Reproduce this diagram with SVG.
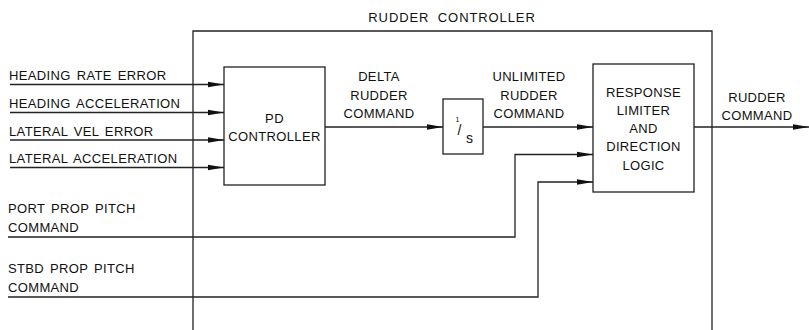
<svg xmlns="http://www.w3.org/2000/svg" width="809" height="330" viewBox="0 0 809 330">
<style>
  text { font-family: "Liberation Sans", Arial, sans-serif; font-size: 13px; fill: #111; letter-spacing: 0.35px; word-spacing: 2px; }
  .c { text-anchor: middle; }
  .box { fill: none; stroke: #222; stroke-width: 1.3; }
  .ln { fill: none; stroke: #222; stroke-width: 1.3; }
</style>
<defs>
  <marker id="arr" markerUnits="userSpaceOnUse" markerWidth="16" markerHeight="8" refX="16" refY="4" orient="auto">
    <path d="M0,1.2 L16,4 L0,6.8 Z" fill="#111"/>
  </marker>
</defs>
<rect width="809" height="330" fill="#fff"/>

<g id="rudder-controller">
  <path class="ln" d="M193,330 V31 H712 V330"/>
  <text class="c" x="452" y="22" style="letter-spacing:0.9px;word-spacing:4px">RUDDER CONTROLLER</text>
</g>

<g id="pd-controller">
  <rect class="box" x="224" y="67" width="101" height="118"/>
  <text class="c" x="274.5" y="123">PD</text>
  <text class="c" x="274.5" y="141">CONTROLLER</text>
</g>

<g id="integrator">
  <rect class="box" x="443" y="99" width="40" height="55"/>
  <text x="455.5" y="121.5" style="font-size:7px;letter-spacing:0">1</text>
  <text x="457.5" y="135" style="font-size:14px;letter-spacing:0">/</text>
  <text x="466" y="143" style="font-size:14px;letter-spacing:0">s</text>
</g>

<g id="response-limiter">
  <rect class="box" x="593" y="64" width="101" height="128"/>
  <text class="c" x="643.5" y="96.5">RESPONSE</text>
  <text class="c" x="643.5" y="114.5">LIMITER</text>
  <text class="c" x="643.5" y="133">AND</text>
  <text class="c" x="643.5" y="151">DIRECTION</text>
  <text class="c" x="643.5" y="170">LOGIC</text>
</g>

<g id="labels">
  <text x="9" y="80">HEADING RATE ERROR</text>
  <text x="9" y="107.5">HEADING ACCELERATION</text>
  <text x="9" y="135.5">LATERAL VEL ERROR</text>
  <text x="9" y="163">LATERAL ACCELERATION</text>
  <text x="8" y="213">PORT PROP PITCH</text>
  <text x="8" y="232">COMMAND</text>
  <text x="8" y="273">STBD PROP PITCH</text>
  <text x="8" y="292">COMMAND</text>
  <text class="c" x="379" y="81">DELTA</text>
  <text class="c" x="379" y="99.5">RUDDER</text>
  <text class="c" x="379" y="118">COMMAND</text>
  <text class="c" x="529" y="81">UNLIMITED</text>
  <text class="c" x="529" y="99.5">RUDDER</text>
  <text class="c" x="529" y="118">COMMAND</text>
  <text class="c" x="757" y="101.5">RUDDER</text>
  <text class="c" x="757" y="120">COMMAND</text>
</g>

<g id="connectors">
  <path class="ln" d="M10,84.5 H224" marker-end="url(#arr)"/>
  <path class="ln" d="M10,112.5 H224" marker-end="url(#arr)"/>
  <path class="ln" d="M10,140 H224" marker-end="url(#arr)"/>
  <path class="ln" d="M10,167.5 H224" marker-end="url(#arr)"/>
  <path class="ln" d="M325,127 H443" marker-end="url(#arr)"/>
  <path class="ln" d="M483,127 H593" marker-end="url(#arr)"/>
  <path class="ln" d="M8,237 H515 V154.5 H593" marker-end="url(#arr)"/>
  <path class="ln" d="M8,297 H538 V182 H593" marker-end="url(#arr)"/>
  <path class="ln" d="M694,127 H809" marker-end="url(#arr)"/>
</g>
</svg>
